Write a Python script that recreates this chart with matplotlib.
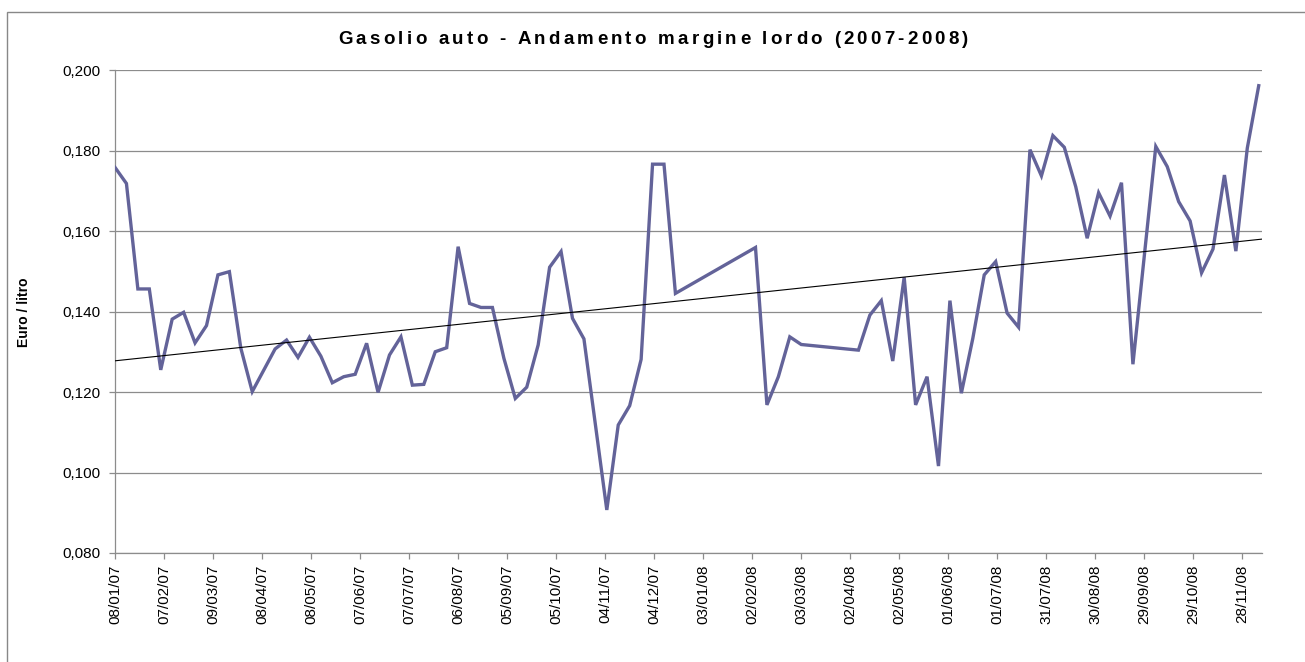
import numpy as np
import pandas as pd
import matplotlib
matplotlib.use('Agg')
import matplotlib.pyplot as plt
import matplotlib.dates as mdates
from matplotlib.ticker import MultipleLocator, FuncFormatter
from matplotlib.font_manager import FontProperties
from matplotlib.patches import Rectangle

# weekly survey dates (missing weeks = None)
start_date = '2007-01-08'
n_weeks = 101
margine = [
    0.1758, 0.1718, 0.1456, 0.1456, 0.1255, 0.1381, 0.1398, 0.1322, 0.1365, 0.1491,
    0.1499, 0.1309, 0.1201, None, 0.1307, 0.1329, 0.1286, 0.1336, 0.1289, 0.1223,
    0.1238, 0.1244, 0.1321, 0.1199, 0.1292, 0.1337, 0.1217, 0.1219, 0.1300, 0.1310,
    0.1561, 0.1420, 0.1410, 0.1410, 0.1284, 0.1184, 0.1212, 0.1317, 0.1510, 0.1549,
    0.1383, 0.1332, None, 0.0907, 0.1118, 0.1166, 0.1281, 0.1766, 0.1766, 0.1445,
    None, None, None, None, None, None, 0.1559, 0.1168, 0.1238, 0.1337,
    0.1318, None, None, None, None, 0.1304, 0.1391, 0.1427, 0.1277, 0.1485,
    0.1168, 0.1238, 0.1016, 0.1427, 0.1197, 0.1333, 0.1491, 0.1524, 0.1396, 0.1361,
    0.1802, 0.1737, 0.1837, 0.1808, 0.1710, 0.1582, 0.1695, 0.1637, 0.1720, 0.1269,
    None, 0.1810, 0.1760, 0.1673, 0.1625, 0.1496, 0.1555, 0.1739, 0.1550, 0.1806,
    0.1961,
]
title = 'Gasolio auto - Andamento margine lordo (2007-2008)'
ylabel = 'Euro / litro'

W, H = 1305, 662
line_col = '#636399'
grid_col = '#8c8c8c'

dates = pd.date_range(start_date, periods=n_weeks, freq='7D')
s = pd.Series(margine, index=dates, dtype=float).dropna()

fig = plt.figure(figsize=(W / 100, H / 100), dpi=100)
ax = fig.add_axes([115 / W, 1 - 553 / H, (1262 - 115) / W, (553 - 70) / H])

ax.plot(s.index, s.values, color=line_col, lw=2.4, solid_joinstyle='miter', zorder=3)

# linear trend line
xnum = mdates.date2num(s.index)
k, q = np.polyfit(xnum, s.values, 1)
x0 = mdates.date2num(pd.Timestamp(start_date))
x1 = mdates.date2num(pd.Timestamp('2008-12-10'))
ax.plot([x0, x1], [k * x0 + q, k * x1 + q], color='black', lw=0.8, zorder=4)

ax.set_xlim(x0, x1)
ax.set_ylim(0.080, 0.200)
ax.yaxis.set_major_locator(MultipleLocator(0.020))
ax.yaxis.set_major_formatter(FuncFormatter(lambda v, p: f'{v:.3f}'.replace('.', ',')))
ax.grid(axis='y', color=grid_col, lw=0.9)
ax.set_axisbelow(True)

ticks = np.arange(x0, x1, 30)
ax.set_xticks(ticks)
ax.xaxis.set_major_formatter(mdates.DateFormatter('%d/%m/%y'))
plt.setp(ax.get_xticklabels(), rotation=90, ha='center', va='top')
ax.tick_params(axis='both', colors=grid_col, labelcolor='black', labelsize=11,
               direction='out', length=4.5, width=0.9, labelfontfamily='Liberation Sans')
ax.tick_params(axis='y', pad=6)
ax.tick_params(axis='x', pad=4)

for side in ['top', 'right']:
    ax.spines[side].set_visible(False)
for side in ['left', 'bottom']:
    ax.spines[side].set_color(grid_col)
    ax.spines[side].set_linewidth(0.9)

fig.text(24 / W, 1 - 312 / H, ylabel, rotation=90, ha='center', va='center',
         fontsize=10, fontweight='bold', family='Liberation Sans')

# title, drawn with the wide letter spacing of the original
fp = FontProperties(family='Liberation Sans', weight='bold', size=13.5)
renderer = fig.canvas.get_renderer()
def adv(c):
    wa = renderer.get_text_width_height_descent('x' + c + 'x', fp, ismath=False)[0]
    wb = renderer.get_text_width_height_descent('xx', fp, ismath=False)[0]
    return wa - wb
widths = [adv(c) for c in title]
track = (630 - sum(widths)) / (len(title) - 1)
xpos = 338
for c, w in zip(title, widths):
    fig.text(xpos / W, 1 - 44 / H, c, fontproperties=fp, ha='left', va='baseline')
    xpos += w + track

# chart frame
fig.patches.append(Rectangle((6.5 / W, -0.1), 1.2, 1 - 12 / H + 0.1, transform=fig.transFigure,
                             fill=False, edgecolor='#888888', lw=1))

fig.savefig('out.png', dpi=100)
